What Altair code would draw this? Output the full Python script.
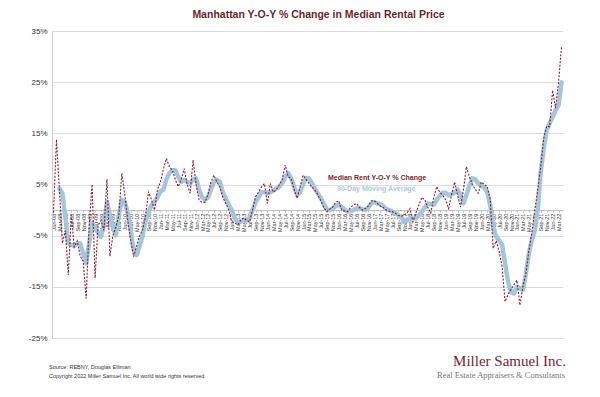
import altair as alt
import pandas as pd

# Monthly Y-O-Y % change in Manhattan median rent, Jan-08 .. Apr-22
yoy = [
    -0.5, 13.8, 4.0, -6.5, -4.0, -12.7, -1.0, -7.2, -6.0, -9.0,
    -10.0, -17.3, -3.0, 5.0, -13.3, -3.0, -2.0, -4.0, 6.0, -9.0,
    -5.0, -3.3, -1.0, 7.2, 3.0, -2.0, -6.0, -9.1, -7.0, -5.0,
    -3.9, -1.0, 3.6, 2.0, 0.0, 4.0, 5.5, 8.0, 10.1, 8.5,
    7.8, 6.0, 4.6, 6.0, 8.1, 5.0, 3.3, 9.8, 5.0, 2.0,
    1.5, 1.5, 3.0, 5.5, 6.8, 5.5, 4.5, 2.5, 1.3, 0.0,
    -2.3, -2.5, -2.9, -2.0, -1.5, -2.0, -2.3, 0.0, 2.6, 3.5,
    4.5, 5.2, 1.3, 5.2, 3.5, 4.0, 4.9, 6.0, 8.8, 6.5,
    6.2, 4.0, 2.3, 4.5, 6.8, 6.0, 5.2, 4.5, 3.9, 3.0,
    1.8, 0.5, -0.3, 0.2, 0.6, 1.5, 1.8, 0.0, -0.2, -0.3,
    0.5, 1.0, 1.3, 0.5, 0.0, 0.3, 0.8, 1.8, 1.8, 1.3,
    0.8, 0.5, 0.0, -0.2, -0.3, -0.6, -1.0, -1.2, -1.0, -0.5,
    0.3, -2.3, -0.5, 1.0, 2.5, 2.0, 0.5, -0.6, 2.5, 4.6,
    3.5, 2.9, 2.0, 0.3, 3.0, 5.5, 3.0, 0.6, 4.0, 8.5,
    6.5, 5.0, 4.0, 3.3, 5.5, 5.0, 4.6, 2.0, -7.5, -6.0,
    -8.0, -11.0, -17.9, -16.5, -15.5, -14.6, -13.7, -18.6, -15.0, -12.4,
    -8.0, -4.5, 0.0, 4.0, 8.5, 14.0, 16.4, 16.3, 23.4, 19.9,
    25.0, 32.0,
]

# 90-day moving average
ma = [
    None, None, 4.2, 3.3, -1.5, -6.5, -6.8, -7.0, -6.5, -6.5,
    -8.5, -10.4, -6.5, -2.5, -3.3, -4.5, -5.2, -2.6, 1.6, -1.0,
    -3.5, -4.9, -1.0, 2.0, 1.6, -0.6, -4.0, -7.8, -8.8, -7.0,
    -5.0, -2.0, -0.5, 1.0, 1.6, 2.5, 3.6, 4.0, 6.0, 7.2,
    7.8, 7.8, 6.5, 5.5, 5.9, 5.5, 5.2, 6.0, 6.2, 4.0,
    2.5, 2.0, 2.5, 4.0, 5.5, 5.9, 5.5, 3.5, 2.3, 1.0,
    0.0, -1.6, -2.3, -2.3, -2.0, -2.0, -1.5, 0.0, 1.5, 2.5,
    3.5, 3.5, 3.3, 3.5, 3.8, 4.2, 4.6, 5.3, 6.5, 7.2,
    6.2, 4.5, 3.0, 3.5, 5.0, 6.3, 6.2, 5.2, 4.2, 3.2,
    2.3, 1.2, 0.1, 0.0, 0.3, 0.8, 1.0, 0.6, 0.1, -0.3,
    -0.2, 0.0, 0.3, 0.4, 0.2, 0.0, 0.5, 1.3, 1.6, 1.3,
    1.1, 0.8, 0.2, 0.0, -0.3, -0.6, -1.0, -1.3, -2.3, -2.0,
    -1.6, -1.6, -1.6, -1.0, -0.3, 0.5, 1.3, 1.2, 1.0, 2.0,
    2.8, 3.4, 3.4, 2.9, 3.1, 3.4, 4.0, 3.0, 1.3, 3.0,
    4.8, 6.2, 6.0, 5.2, 4.8, 4.4, 3.5, 1.0, -3.3, -5.2,
    -5.9, -6.8, -10.4, -14.0, -16.0, -16.3, -15.0, -15.3, -15.6, -12.5,
    -8.5, -5.9, -4.0, 0.0, 7.5, 12.0, 15.6, 17.0, 18.2, 19.5,
    20.5, 25.0,
]

months = [d.strftime("%b-%y") for d in pd.date_range("2008-01-01", periods=len(yoy), freq="MS")]
tick_labels = months[::2]
y_ticks = [-25, -15, -5, 5, 15, 25, 35]

df = pd.DataFrame({"month": months, "yoy": yoy, "ma": ma})

W, H = 511, 307
y0_offset = -(H - H * 35 / 60)

x_enc = alt.X(
    "month:O",
    sort=None,
    scale=alt.Scale(type="point", padding=0.5),
    axis=alt.Axis(
        values=tick_labels, labelAngle=-90, labelFontSize=5.5, labelFont="Liberation Sans",
        labelColor="#333333", labelPadding=1, tickSize=2, tickColor="#bfbfbf",
        domainColor="#bfbfbf", offset=y0_offset, title=None, grid=False,
        labelOverlap=False,
    ),
)
y_scale = alt.Scale(domain=[-25, 35], nice=False, zero=False)
y_axis = alt.Axis(
    values=y_ticks, labelExpr="datum.value + '%'", labelFontSize=8,
    labelFont="Liberation Sans", labelColor="#333333", ticks=False, labelPadding=5,
    domainColor="#d0d0d0", gridColor="#dcdcdc", title=None,
)

base = alt.Chart(df)
blue = base.mark_line(color="#a3c6dc", strokeWidth=4.5, strokeJoin="round", strokeCap="round").encode(
    x=x_enc, y=alt.Y("ma:Q", scale=y_scale, axis=y_axis)
)
red = base.mark_line(color="#8a1c2c", strokeWidth=1.1, strokeDash=[2, 1.5]).encode(
    x=x_enc, y=alt.Y("yoy:Q", scale=y_scale)
)

legend_df = pd.DataFrame({"t": ["Median Rent Y-O-Y % Change"]})
legend_df2 = pd.DataFrame({"t": ["90-Day Moving Average"]})
leg1 = alt.Chart(legend_df).mark_text(
    align="left", baseline="middle", fontSize=7, fontWeight="bold", font="Liberation Sans", color="#7a1f2c"
).encode(text="t:N", x=alt.value(276), y=alt.value(147))
leg2 = alt.Chart(legend_df2).mark_text(
    align="left", baseline="middle", fontSize=7, fontWeight="bold", font="Liberation Sans", color="#a9cbe0"
).encode(text="t:N", x=alt.value(285), y=alt.value(158))

src_df = pd.DataFrame({"t": ["Source: REBNY, Douglas Elliman"]})
cpy_df = pd.DataFrame({"t": ["Copyright 2022 Miller Samuel Inc.  All world wide rights reserved."]})
logo_df = pd.DataFrame({"t": ["Miller Samuel Inc."]})
tag_df = pd.DataFrame({"t": ["Real Estate Appraisers & Consultants"]})

src = alt.Chart(src_df).mark_text(
    align="left", baseline="middle", fontSize=5.5, font="Liberation Sans", color="#333333"
).encode(text="t:N", x=alt.value(-3), y=alt.value(336))
cpy = alt.Chart(cpy_df).mark_text(
    align="left", baseline="middle", fontSize=5.5, font="Liberation Sans", color="#333333"
).encode(text="t:N", x=alt.value(-3), y=alt.value(345))
logo = alt.Chart(logo_df).mark_text(
    align="right", baseline="alphabetic", fontSize=15, font="Liberation Serif", color="#7d2230"
).encode(text="t:N", x=alt.value(514), y=alt.value(335))
tag = alt.Chart(tag_df).mark_text(
    align="right", baseline="alphabetic", fontSize=8.5, font="Liberation Serif", color="#777777"
).encode(text="t:N", x=alt.value(513), y=alt.value(347))

chart = alt.layer(blue, red, leg1, leg2, src, cpy, logo, tag).properties(
    width=W, height=H,
    title=alt.TitleParams(
        "Manhattan Y-O-Y % Change in Median Rental Price", anchor="middle", fontSize=10.5,
        font="Liberation Sans", fontWeight="bold", color="#6e1f2e", offset=7, dx=11,
    ),
    autosize=alt.AutoSizeParams(type="none"),
    padding={"left": 44, "top": 23, "right": 29, "bottom": 51},
    background="#ffffff",
).configure_view(stroke=None)

chart.save("out.html", embed_options={"renderer": "svg", "actions": False})
